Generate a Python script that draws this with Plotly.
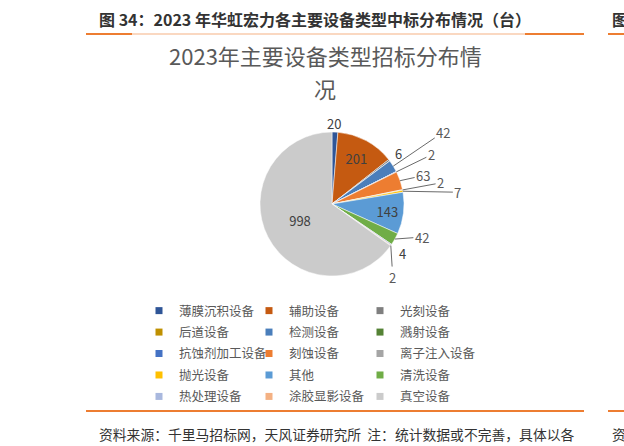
import math
import plotly.graph_objects as go

W, H = 624, 446

categories = ['薄膜沉积设备', '辅助设备', '光刻设备', '后道设备', '检测设备', '溅射设备',
              '抗蚀剂加工设备', '刻蚀设备', '离子注入设备', '抛光设备', '其他', '清洗设备',
              '热处理设备', '涂胶显影设备', '真空设备']
counts = [20, 201, 6, 0, 42, 0, 2, 63, 2, 7, 143, 42, 4, 2, 998]
colors = ['#2F5597', '#C55A11', '#7F7F7F', '#BF9000', '#4A7EBB', '#548235',
          '#4472C4', '#ED7D31', '#A5A5A5', '#FFC000', '#5B9BD5', '#70AD47',
          '#A9B8DE', '#F4B183', '#CBCBCB']

header = '图 34：2023 年华虹宏力各主要设备类型中标分布情况（台）'
title_lines = ['2023年主要设备类型招标分布情', '况']
source = '资料来源：千里马招标网，天风证券研究所  注：统计数据或不完善，具体以各'

FONT = 'Noto Sans CJK SC'
ORANGE = '#ED7D31'
LIGHT_ORANGE = '#F8CBAD'

# pie geometry in page pixels
cx, cy, r = 332, 204, 72

# labels drawn by the pie itself
inside = ['辅助设备', '其他', '真空设备']
# small slices: label offset (px) from the slice's outer edge, and whether it gets a leader line
outside_labels = {
    '薄膜沉积设备': (-1, -9, False),
    '光刻设备': (9, -7, False),
    '检测设备': (50, -34, True),
    '抗蚀剂加工设备': (35, -17, True),
    '刻蚀设备': (23, -5, True),
    '离子注入设备': (38, -7, True),
    '抛光设备': (55, 1, True),
    '清洗设备': (27, -2, True),
    '热处理设备': (11, 9, False),
    '涂胶显影设备': (2, 32, True),
}


def fx(px):
    return px / W


def fy(py):
    return 1 - py / H


fig = go.Figure()

fig.add_trace(go.Pie(
    labels=categories,
    values=counts,
    text=[str(v) if c in inside else '' for c, v in zip(categories, counts)],
    textinfo='text',
    textposition='inside',
    insidetextorientation='horizontal',
    sort=False,
    direction='clockwise',
    rotation=0,
    marker=dict(colors=colors, line=dict(color='white', width=0.5)),
    insidetextfont=dict(family=FONT, size=13, color='#404040'),
    domain=dict(x=[fx(cx - 110), fx(cx + 110)], y=[fy(cy + r), fy(cy - r)]),
    automargin=False,
    showlegend=False,
    hoverinfo='label+value',
))

# legend: three columns, filled row by row like the original
for i, (cat, col) in enumerate(zip(categories, colors)):
    fig.add_trace(go.Scatter(
        x=[None], y=[None], mode='markers', name=cat, legendgroup=cat,
        marker=dict(symbol='square', size=7, color=col),
        legend=['legend', 'legend2', 'legend3'][i % 3],
        hoverinfo='skip',
    ))

annotations = []

# value labels for the thin slices, placed at the slice mid-angle
total = sum(counts)
cum = 0
for cat, v in zip(categories, counts):
    mid = (cum + v / 2) / total * 2 * math.pi
    cum += v
    if cat not in outside_labels or v == 0:
        continue
    dx, dy, leader = outside_labels[cat]
    ex = cx + r * math.sin(mid)
    ey = cy - r * math.cos(mid)
    if leader:
        annotations.append(dict(
            text=str(v), x=fx(ex), y=fy(ey), ax=dx, ay=dy, axref='pixel', ayref='pixel',
            showarrow=True, arrowhead=0, arrowwidth=0.9, arrowcolor='#595959', standoff=0,
            font=dict(family=FONT, size=13, color='#595959')))
    else:
        annotations.append(dict(
            text=str(v), x=fx(ex), y=fy(ey), xshift=dx, yshift=-dy, showarrow=False,
            xanchor='center', yanchor='middle',
            font=dict(family=FONT, size=13, color='#404040')))

annotations += [
    dict(text=header, x=fx(97), y=fy(19), xanchor='left', yanchor='middle', showarrow=False,
         font=dict(family=FONT, size=16, color='#333333', weight=700)),
    dict(text=title_lines[0], x=fx(325), y=fy(55), xanchor='center', yanchor='middle',
         showarrow=False, font=dict(family=FONT, size=22, color='#595959')),
    dict(text=title_lines[1], x=fx(325), y=fy(88), xanchor='center', yanchor='middle',
         showarrow=False, font=dict(family=FONT, size=22, color='#595959')),
    dict(text=source, x=fx(97), y=fy(434), xanchor='left', yanchor='middle', showarrow=False,
         font=dict(family=FONT, size=13.8, color='#333333')),
    dict(text='图', x=fx(610), y=fy(19), xanchor='left', yanchor='middle', showarrow=False,
         font=dict(family=FONT, size=16, color='#333333', weight=700)),
    dict(text='资', x=fx(610), y=fy(434), xanchor='left', yanchor='middle', showarrow=False,
         font=dict(family=FONT, size=13.8, color='#333333')),
]
for a in annotations:
    a.update(xref='paper', yref='paper')

shapes = []
# header rule: light line with darker ends
shapes.append(dict(type='line', x0=fx(86), x1=fx(584), y0=fy(34), y1=fy(34),
                   line=dict(color=LIGHT_ORANGE, width=1.5)))
for a, b in [(86, 132), (525, 584)]:
    shapes.append(dict(type='line', x0=fx(a), x1=fx(b), y0=fy(34), y1=fy(34),
                       line=dict(color=ORANGE, width=2)))
# footer rule
shapes.append(dict(type='line', x0=fx(86), x1=fx(584), y0=fy(411), y1=fy(411),
                   line=dict(color=ORANGE, width=2)))
# neighbouring figure cut off at the right edge
for yy in (34, 411):
    shapes.append(dict(type='line', x0=fx(608), x1=fx(630), y0=fy(yy), y1=fy(yy),
                       line=dict(color=ORANGE, width=2)))
for s in shapes:
    s.update(xref='paper', yref='paper')

legend_style = dict(orientation='v', xanchor='left', yanchor='top', y=fy(296),
                    itemwidth=30, tracegroupgap=2.2, traceorder='grouped',
                    font=dict(family=FONT, size=12.5, color='#595959'),
                    bgcolor='rgba(0,0,0,0)')

fig.update_layout(
    width=W, height=H,
    margin=dict(l=0, r=0, t=0, b=0),
    paper_bgcolor='white', plot_bgcolor='white',
    font=dict(family=FONT, color='#595959'),
    xaxis=dict(visible=False), yaxis=dict(visible=False),
    shapes=shapes,
    annotations=annotations,
    showlegend=True,
    legend=dict(legend_style, x=fx(139)),
    legend2=dict(legend_style, x=fx(249)),
    legend3=dict(legend_style, x=fx(360)),
)

# drop the browser's default body margin so the figure sits at the window's corner
fig.write_html('out.html', config={'displayModeBar': False},
               post_script="document.body.style.margin = '0';")
